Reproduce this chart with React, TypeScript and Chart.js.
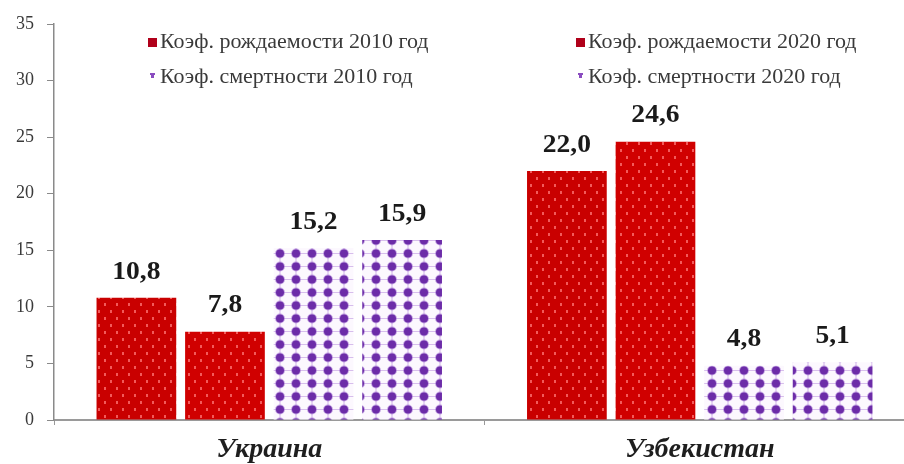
import React, { useEffect, useRef } from "react";
import { Chart, registerables } from "chart.js";

Chart.register(...registerables);

const categories = ["Украина", "Узбекистан"];
const seriesLabels = [
  "Коэф. рождаемости 2010 год",
  "Коэф. рождаемости 2020 год",
  "Коэф. смертности 2010 год",
  "Коэф. смертности 2020 год",
];
const birth2010 = [10.8, 22.0];
const birth2020 = [7.8, 24.6];
const death2010 = [15.2, 4.8];
const death2020 = [15.9, 5.1];
const yTicks = [0, 5, 10, 15, 20, 25, 30, 35];

const SERIF = '"Liberation Serif", "Times New Roman", serif';

function makeRedPattern(base: string) {
  const c = document.createElement("canvas");
  c.width = 12;
  c.height = 14;
  const x = c.getContext("2d")!;
  x.fillStyle = base;
  x.fillRect(0, 0, 12, 14);
  x.fillStyle = "rgba(255,120,120,0.75)";
  x.fillRect(2, 2, 2, 3);
  x.fillRect(8, 9, 2, 3);
  return x.createPattern(c, "repeat")!;
}

function makePurplePattern() {
  const w = 16;
  const h = 13;
  const c = document.createElement("canvas");
  c.width = w;
  c.height = h;
  const x = c.getContext("2d")!;
  x.fillStyle = "#fcf8fe";
  x.fillRect(0, 0, w, h);
  x.strokeStyle = "rgba(170,120,215,0.45)";
  x.lineWidth = 1.2;
  x.beginPath();
  x.moveTo(0, h / 2);
  x.lineTo(w, h / 2);
  x.moveTo(w / 2, 0);
  x.lineTo(w / 2, h);
  x.stroke();
  x.fillStyle = "rgba(140,80,200,0.45)";
  x.beginPath();
  x.arc(w / 2, h / 2, 5, 0, Math.PI * 2);
  x.fill();
  x.fillStyle = "#6c2ca8";
  x.beginPath();
  x.arc(w / 2, h / 2, 4, 0, Math.PI * 2);
  x.fill();
  return x.createPattern(c, "repeat")!;
}

const valueLabelsPlugin = {
  id: "valueLabels",
  afterDatasetsDraw(chart: any) {
    const ctx = chart.ctx;
    chart.data.datasets.forEach((ds: any, i: number) => {
      const meta = chart.getDatasetMeta(i);
      meta.data.forEach((bar: any, j: number) => {
        const v = ds.data[j] as number;
        const txt = v.toFixed(1).replace(".", ",");
        ctx.save();
        ctx.font = `bold 26px ${SERIF}`;
        ctx.fillStyle = "#1a1a1a";
        ctx.textAlign = "center";
        ctx.textBaseline = "middle";
        ctx.translate(bar.x, bar.y - 26);
        ctx.scale(1.06, 1);
        ctx.fillText(txt, 0, 0);
        ctx.restore();
      });
    });
  },
};

const customLegendPlugin = {
  id: "customLegend",
  afterDatasetsDraw(chart: any) {
    const ctx = chart.ctx;
    const cols = [148, 576];
    const rows = [43, 78];
    chart.data.datasets.forEach((ds: any, i: number) => {
      const col = cols[i % 2];
      const row = rows[Math.floor(i / 2)];
      ctx.save();
      if (i < 2) {
        ctx.fillStyle = ds.legendColor;
        ctx.fillRect(col, row - 5, 9, 9);
      } else {
        ctx.fillStyle = "#8a4cc0";
        ctx.fillRect(col + 2, row - 5, 5, 2);
        ctx.fillRect(col + 3, row - 3, 3, 3);
      }
      ctx.font = `20px ${SERIF}`;
      ctx.fillStyle = "#3a3a3a";
      ctx.textBaseline = "middle";
      ctx.textAlign = "left";
      ctx.translate(col + 12, row);
      ctx.scale(1.1, 1);
      ctx.fillText(ds.label, 0, 0);
      ctx.restore();
    });
  },
};

export default function App() {
  const ref = useRef<HTMLCanvasElement>(null);

  useEffect(() => {
    if (!ref.current) return;
    const redA = makeRedPattern("#c90000");
    const redB = makeRedPattern("#d00000");
    const purpA = makePurplePattern();
    const purpB = makePurplePattern();
    const common = {
      categoryPercentage: 0.823,
      barPercentage: 0.9,
      borderWidth: 0,
    };
    const chart = new Chart(ref.current, {
      type: "bar",
      data: {
        labels: categories,
        datasets: [
          { label: seriesLabels[0], data: birth2010, backgroundColor: redA, legendColor: "#b0001a", ...common } as any,
          { label: seriesLabels[1], data: birth2020, backgroundColor: redB, legendColor: "#b0001a", ...common } as any,
          { label: seriesLabels[2], data: death2010, backgroundColor: purpA, ...common } as any,
          { label: seriesLabels[3], data: death2020, backgroundColor: purpB, ...common } as any,
        ],
      },
      options: {
        responsive: false,
        animation: false,
        devicePixelRatio: 1,
        layout: { padding: { top: 24, right: 1, left: 0, bottom: 0 } },
        plugins: {
          legend: { display: false },
          tooltip: { enabled: false },
        },
        scales: {
          x: {
            offset: true,
            grid: {
              display: true,
              drawOnChartArea: false,
              drawTicks: true,
              tickLength: 5,
              color: "#999999",
              offset: true,
            },
            border: { display: true, color: "#9a9a9a", width: 2 },
            ticks: {
              font: { family: SERIF, size: 28, style: "italic", weight: "bold" },
              color: "#1e1e1e",
              padding: 8,
            },
            afterFit(scale: any) {
              scale.height = 44;
            },
          },
          y: {
            min: yTicks[0],
            max: yTicks[yTicks.length - 1],
            afterBuildTicks(scale: any) {
              scale.ticks = yTicks.map((v) => ({ value: v }));
            },
            grid: {
              display: true,
              drawOnChartArea: false,
              drawTicks: true,
              tickLength: 7,
              color: "#8a8a8a",
            },
            border: { display: true, color: "#8a8a8a", width: 1.5 },
            ticks: {
              font: { family: SERIF, size: 18 },
              color: "#3a3a3a",
              padding: 13,
            },
            afterFit(scale: any) {
              scale.width = 54;
            },
          },
        },
      },
      plugins: [valueLabelsPlugin, customLegendPlugin],
    });
    return () => chart.destroy();
  }, []);

  return (
    <div
      style={{
        position: "fixed",
        left: 0,
        top: 0,
        width: 904,
        height: 464,
        overflow: "hidden",
        background: "#ffffff",
      }}
    >
      <canvas ref={ref} width={916} height={464} style={{ display: "block" }} />
    </div>
  );
}
